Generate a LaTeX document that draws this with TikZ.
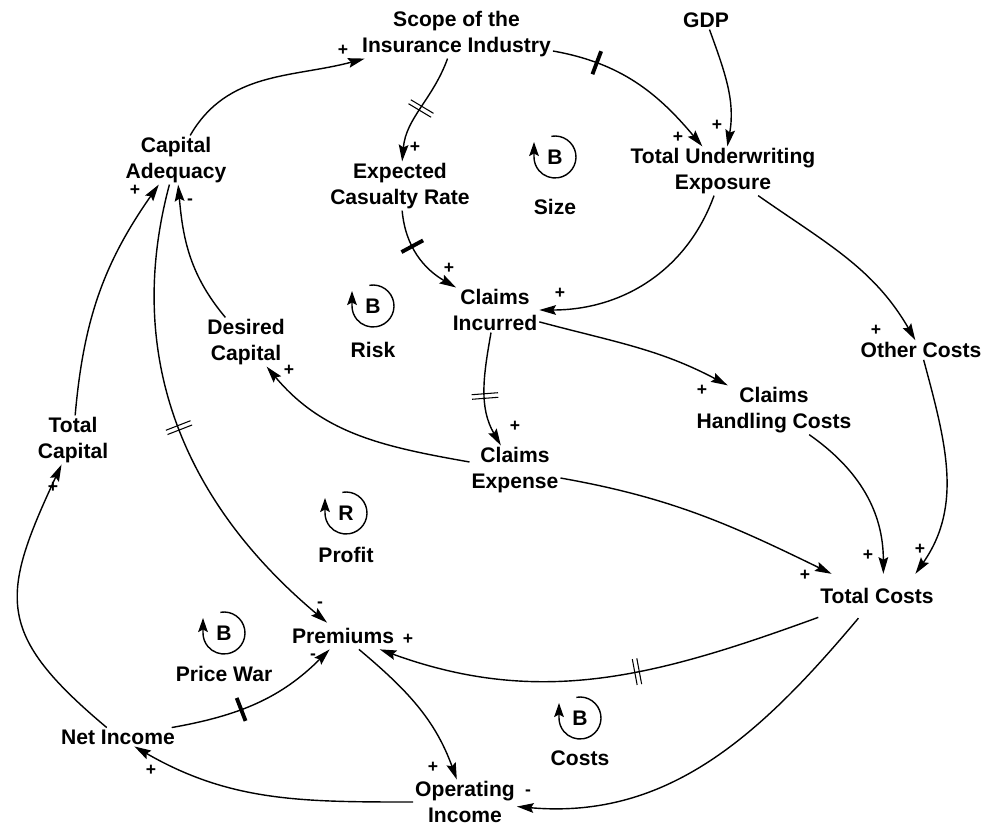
\documentclass[tikz,border=0pt]{standalone}
\usepackage{fontspec}
\setmainfont{Liberation Sans}
\usepackage{tikz}
\usetikzlibrary{arrows.meta,positioning,decorations.markings}

\begin{document}
\begin{tikzpicture}[
    font=\fontsize{12}{14.4}\selectfont\bfseries,
    var/.style={align=center, inner sep=1pt},
    sign/.style={font=\fontsize{10}{12}\selectfont\bfseries, inner sep=0pt},
    link/.style={-{Stealth[length=9.5pt,width=5.5pt,inset=1.5pt]}, line width=0.8pt},
    delay/.style={postaction={decorate, decoration={markings, mark=at position #1 with {\fill (-1.1pt,-7pt) rectangle (1.1pt,7pt);}}}},
    delay2/.style={postaction={decorate, decoration={markings, mark=at position #1 with {\draw[-, line width=0.6pt] (-1.3pt,-7.5pt) -- (-1.3pt,7.5pt) (1.3pt,-7.5pt) -- (1.3pt,7.5pt);}}}},
    loopsym/.style={circle, minimum size=0.84cm, inner sep=0pt, outer sep=0pt},
    loopname/.style={inner sep=1pt},
    looparrow/.style={-{Stealth[length=8pt,width=5.5pt,inset=1.5pt]}, line width=0.8pt}
]
\useasboundingbox (0,0) rectangle (20,-16.54);

% Variables
\node[var] (scope) at (9.13,-0.68) {Scope of the\\Insurance Industry};
\node[var] (gdp) at (14.12,-0.40) {GDP};
\node[var] (capad) at (3.52,-3.20) {Capital\\Adequacy};
\node[var] (ecr) at (8.00,-3.72) {Expected\\Casualty Rate};
\node[var] (tue) at (14.46,-3.42) {Total Underwriting\\Exposure};
\node[var] (ci) at (9.90,-6.20) {Claims\\Incurred};
\node[var] (dc) at (4.92,-6.84) {Desired\\Capital};
\node[var] (oc) at (18.42,-7.00) {Other Costs};
\node[var] (chc) at (15.48,-8.20) {Claims\\Handling Costs};
\node[var] (totcap) at (1.46,-8.80) {Total\\Capital};
\node[var] (ce) at (10.30,-9.40) {Claims\\Expense};
\node[var, inner ysep=8pt] (tc) at (17.54,-11.92) {Total Costs};
\node[var, inner ysep=3pt] (prem) at (6.86,-12.72) {Premiums};
\node[var] (ni) at (2.36,-14.74) {Net Income};
\node[var] (oi) at (9.30,-16.04) {Operating\\Income};

% Loops
\foreach \n/\l/\x/\y/\t/\d in {size/B/11.10/-3.14/Size/0.38, risk/B/7.46/-6.12/Risk/0.26,
    profit/R/6.92/-10.26/Profit/0.22, pwar/B/4.48/-12.66/Price War/0.2, costs/B/11.60/-14.36/Costs/0.2} {
    \node[loopsym] (l\n) at (\x,\y) {\l};
    \draw[looparrow] (l\n.100) arc[start angle=100, end angle=-180, radius=0.42cm] -- ++(0,0.3);
    \node[loopname, below=\d cm of l\n] (l\n name) {\t};
}

% Arrows - size and risk
\draw[link] (capad) to[out=60, in=195] (scope);
\draw[link, delay2=0.5] (scope) to[out=-110, in=85] (ecr);
\draw[link, delay=0.25] (scope) to[out=-10, in=130] (tue);
\draw[link] (gdp) to[out=-70, in=80] (tue);
\draw[link, delay=0.38] (ecr) to[out=-85, in=150] (ci);
\draw[link] (tue) to[out=-110, in=0] (ci);
\draw[link] (ci) to[out=-15, in=152] (chc);
\draw[link, delay2=0.55] (ci) to[out=-100, in=120] (ce);
\draw[link] (tue) to[out=-35, in=120] (oc);

% Arrows - costs
\draw[link] (chc) to[out=-35, in=90] (tc.74);
\draw[link] (oc) to[out=-75, in=55] (tc.30);
\draw[link] (ce) to[out=-10, in=154] (tc);
\draw[link] (ce) to[out=170, in=-50] (dc);
\draw[link] (dc) to[out=130, in=-85] (capad);
\draw[link] (totcap) to[out=85, in=-125] (capad);

% Arrows - profit and price war
\draw[link, delay2=0.5] (capad) to[out=-105, in=140] (prem);
\draw[link] (ni) to[out=140, in=-115, looseness=1.4] (totcap);
\draw[link, delay=0.4] (ni) to[out=10, in=-135] (prem);
\draw[link, delay2=0.42] (tc) to[out=-160, in=-20] (prem);
\draw[link] (prem) to[out=-40, in=110] (oi);
\draw[link] (tc) to[out=-130, in=-5] (oi);
\draw[link] (oi) to[out=180, in=-30] (ni);

% Polarities
\foreach \s/\x/\y [count=\i] in {+/6.86/-1.00, +/8.30/-2.94, +/13.56/-2.74, +/14.34/-2.50,
    +/8.98/-5.36, +/11.20/-5.86, +/2.70/-3.80, -/3.80/-4.04, +/5.78/-7.40, +/1.06/-9.74,
    +/10.30/-8.52, +/14.04/-7.80, +/17.52/-6.60, +/17.36/-11.10, +/18.40/-10.98,
    +/16.10/-11.50, -/6.40/-12.10, -/6.26/-13.14, +/8.16/-12.78, +/8.66/-15.34,
    -/10.56/-15.86, +/3.02/-15.40}
    \node[sign] (pol\i) at (\x,\y) {\s};

\end{tikzpicture}
\end{document}
